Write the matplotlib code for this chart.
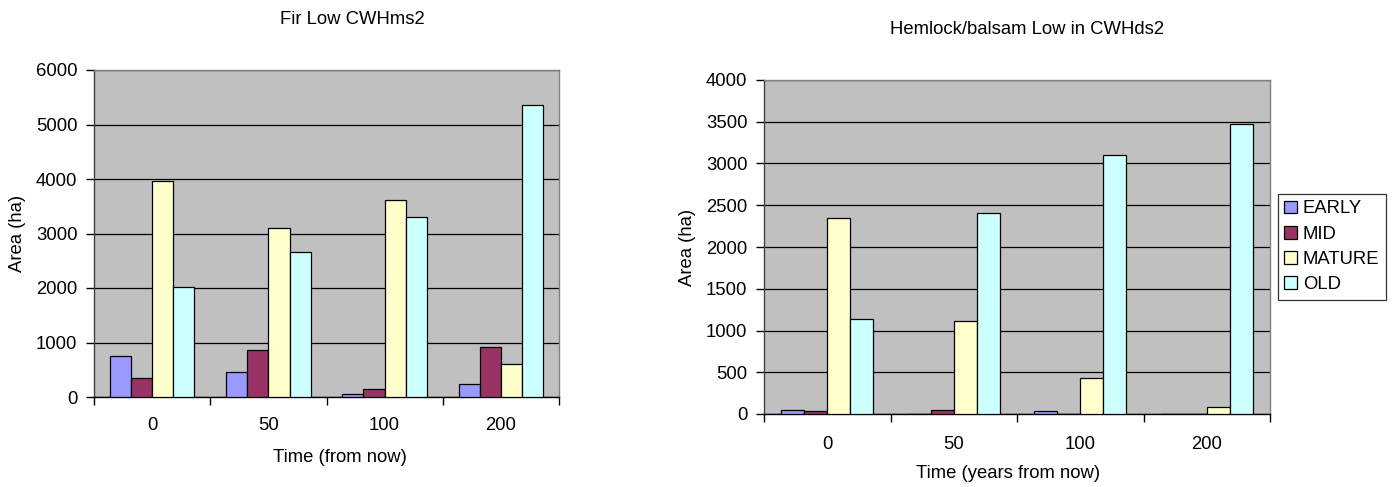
import matplotlib
matplotlib.use("Agg")
import matplotlib.pyplot as plt
import numpy as np
from matplotlib.patches import Patch

plt.rcParams['font.family'] = ['Liberation Sans', 'DejaVu Sans']

# ---- data ----
times = ["0", "50", "100", "200"]
stages = ["EARLY", "MID", "MATURE", "OLD"]
stage_colors = ["#9999FF", "#993366", "#FFFFCC", "#CCFFFF"]

fir_early = [758, 459, 49, 239]
fir_mid = [342, 868, 141, 924]
fir_mature = [3963, 3107, 3615, 599]
fir_old = [2024, 2667, 3297, 5352]

hem_early = [48, 3, 36, 0]
hem_mid = [32, 48, 2, 5]
hem_mature = [2351, 1116, 434, 84]
hem_old = [1135, 2402, 3100, 3478]

W, H = 1395, 487
fig = plt.figure(figsize=(W / 100, H / 100), dpi=100)
FS = 13.3


def px_axes(x0, y0, x1, y1):
    return fig.add_axes([x0 / W, 1 - y1 / H, (x1 - x0) / W, (y1 - y0) / H])


def draw_panel(ax, series, ymax, ystep, xpad):
    n = len(times)
    x = np.arange(n)
    bw = 1 / (len(series) + 1.5)
    for i, (vals, col) in enumerate(zip(series, stage_colors)):
        offs = (i - (len(series) - 1) / 2) * bw
        ax.bar(x + offs, vals, width=bw, color=col, edgecolor="black",
               linewidth=0.9, zorder=3)
    ax.set_facecolor("#C0C0C0")
    ax.set_xlim(-0.5, n - 0.5)
    ax.set_ylim(0, ymax)
    ax.set_yticks(np.arange(0, ymax + 1, ystep))
    ax.yaxis.grid(True, color="black", linewidth=0.9, zorder=1)
    ax.set_axisbelow(True)
    # category boundaries carry the tick marks, labels sit in between
    ax.set_xticks(np.arange(-0.5, n, 1.0))
    ax.set_xticklabels([])
    ax.set_xticks(x, minor=True)
    ax.set_xticklabels(times, minor=True, fontsize=FS)
    ax.tick_params(axis="x", which="major", length=6, width=1, direction="out")
    ax.tick_params(axis="x", which="minor", length=0, pad=xpad)
    ax.tick_params(axis="y", length=6, width=1, direction="out", pad=6,
                   labelsize=FS)
    for s in ("top", "right"):
        ax.spines[s].set_color("#808080")
        ax.spines[s].set_linewidth(1)
    ax.spines["left"].set_color("#404040")
    ax.spines["bottom"].set_color("black")
    ax.spines["left"].set_linewidth(1)
    ax.spines["bottom"].set_linewidth(1)


ax1 = px_axes(94, 70, 559, 397)
draw_panel(ax1, [fir_early, fir_mid, fir_mature, fir_old], 6000, 1000, 14.5)

ax2 = px_axes(764, 80, 1270, 414)
draw_panel(ax2, [hem_early, hem_mid, hem_mature, hem_old], 4000, 500, 16)

# titles and axis labels
fig.text(352 / W, 1 - 20 / H, "Fir Low CWHms2", ha="center", va="center", fontsize=FS)
fig.text(1027 / W, 1 - 30 / H, "Hemlock/balsam Low in CWHds2", ha="center",
         va="center", fontsize=FS)
fig.text(340 / W, 1 - 458 / H, "Time (from now)", ha="center", va="center", fontsize=FS)
fig.text(1008 / W, 1 - 473 / H, "Time (years from now)", ha="center", va="center",
         fontsize=FS)
fig.text(18 / W, 1 - 233 / H, "Area (ha)", ha="center", va="center",
         rotation=90, fontsize=FS)
fig.text(688 / W, 1 - 247 / H, "Area (ha)", ha="center", va="center",
         rotation=90, fontsize=FS)

handles = [Patch(facecolor=c, edgecolor="black", linewidth=0.9) for c in stage_colors]
leg = fig.legend(handles, stages, loc="upper left",
                 bbox_to_anchor=(1278 / W, 1 - 194 / H), fontsize=FS,
                 frameon=True, fancybox=False, edgecolor="black",
                 handlelength=0.7, handleheight=0.7, handletextpad=0.3,
                 borderpad=0.35, labelspacing=0.45, borderaxespad=0)
leg.get_frame().set_linewidth(0.9)

fig.savefig("out.png", dpi=100)
